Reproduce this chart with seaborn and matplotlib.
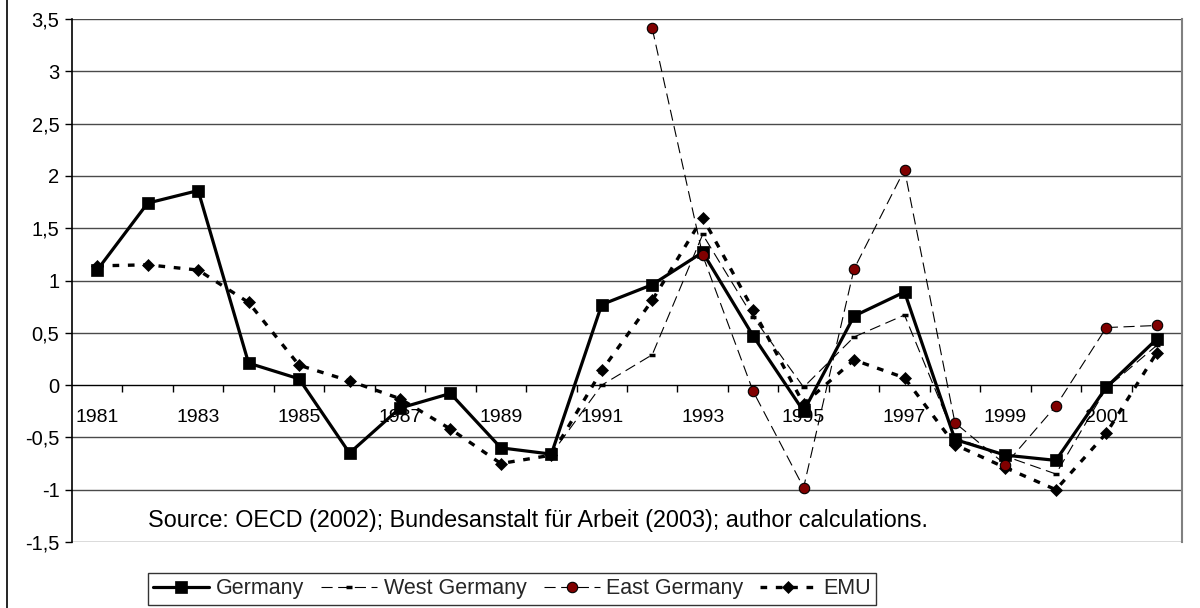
import pandas as pd
import seaborn as sns
import matplotlib.pyplot as plt
import numpy as np
from matplotlib.lines import Line2D
from matplotlib.ticker import FixedLocator, FuncFormatter

years = list(range(1981, 2003))
germany = [1.10, 1.74, 1.86, 0.21, 0.06, -0.65, -0.22, -0.08, -0.60, -0.66, 0.77,
           0.96, 1.27, 0.47, -0.25, 0.66, 0.89, -0.52, -0.67, -0.72, -0.02, 0.44]
west_germany = [1.10, 1.74, 1.86, 0.21, 0.06, -0.65, -0.22, -0.08, -0.60, -0.66, 0.00,
                0.29, 1.44, 0.65, -0.02, 0.46, 0.67, -0.50, -0.68, -0.85, -0.03, 0.38]
east_germany = [np.nan] * 11 + [3.41, 1.24, -0.06, -0.98, 1.11, 2.06, -0.36, -0.76, -0.20, 0.55, 0.57]
emu = [1.14, 1.15, 1.10, 0.79, 0.19, 0.04, -0.13, -0.42, -0.75, -0.67, 0.14,
       0.81, 1.60, 0.72, -0.18, 0.24, 0.07, -0.57, -0.79, -1.00, -0.46, 0.31]
source_note = "Source: OECD (2002); Bundesanstalt für Arbeit (2003); author calculations."

df = pd.DataFrame({
    "pos": np.arange(len(years)),
    "Germany": germany,
    "West Germany": west_germany,
    "East Germany": east_germany,
    "EMU": emu,
})

sns.set_theme(style="white")
plt.rcParams['font.family'] = ['Liberation Sans', 'DejaVu Sans']

fig = plt.figure(figsize=(12, 6.08), dpi=100)
ax = fig.add_axes([0.06, 0.1086, 0.925, 0.8601])

# horizontal grid
for v in np.arange(-1.5, 3.51, 0.5):
    if abs(v) > 1e-9:
        ax.axhline(v, color="#4a4a4a", lw=1.0, zorder=0)

sns.lineplot(data=df, x="pos", y="Germany", ax=ax, color="black", lw=2.3,
             marker="s", markersize=8.5, markeredgecolor="black", markeredgewidth=0.5,
             label="Germany", zorder=3)
sns.lineplot(data=df, x="pos", y="West Germany", ax=ax, color="black", lw=0.8,
             linestyle=(0, (10, 5)), marker="_", markersize=5, markeredgewidth=2.5,
             markeredgecolor="black", label="West Germany", zorder=4)
sns.lineplot(data=df, x="pos", y="East Germany", ax=ax, color="black", lw=0.8,
             linestyle=(0, (10, 5)), marker="o", markersize=7.5, markerfacecolor="#800000",
             markeredgecolor="black", markeredgewidth=0.8, label="East Germany", zorder=5)
sns.lineplot(data=df, x="pos", y="EMU", ax=ax, color="black", lw=2.4,
             linestyle=(0, (2.0, 2.6)), marker="D", markersize=6.5,
             markeredgecolor="black", markeredgewidth=0.5, label="EMU", zorder=3)

ax.set_xlim(-0.5, len(years) - 0.5)
ax.set_ylim(-1.5, 3.5)
ax.set_xlabel("")
ax.set_ylabel("")

# x axis crossing at zero
ax.spines["bottom"].set_position(("data", 0))
ax.spines["bottom"].set_color("black")
ax.spines["bottom"].set_linewidth(1.0)
ax.spines["left"].set_color("black")
ax.spines["left"].set_linewidth(1.2)
ax.spines["right"].set_color("#808080")
ax.spines["right"].set_linewidth(1.5)
ax.spines["top"].set_visible(False)

ax.xaxis.set_major_locator(FixedLocator(np.arange(0, len(years), 2)))
ax.xaxis.set_major_formatter(FuncFormatter(lambda x, p: str(years[int(round(x))])))
ax.xaxis.set_minor_locator(FixedLocator(np.arange(0.5, len(years) - 0.5, 1)))
ax.tick_params(axis="x", which="major", length=0, pad=17, labelsize=14, colors="black")
ax.tick_params(axis="x", which="minor", direction="out", length=5, width=1, color="black", bottom=True)

ax.set_yticks(np.arange(-1.5, 3.51, 0.5))
ax.yaxis.set_major_formatter(FuncFormatter(lambda v, p: f"{v:g}".replace(".", ",")))
ax.tick_params(axis="y", direction="out", length=5, width=1, pad=4, labelsize=14.5,
               colors="black", left=True)

ax.text(0.0685, 0.042, source_note, transform=ax.transAxes, fontsize=16.8,
        ha="left", va="center", color="black")

leg = ax.legend(loc="upper left", bbox_to_anchor=(148 / 1200, 1 - 573 / 608),
                bbox_transform=fig.transFigure, ncol=4, fontsize=15.5, frameon=True,
                fancybox=False, edgecolor="black", handlelength=2.6, handletextpad=0.3,
                columnspacing=0.8, borderpad=0.25, borderaxespad=0)
leg.get_frame().set_linewidth(1.0)

fig.add_artist(Line2D([0.0055, 0.0055], [0, 1], transform=fig.transFigure,
                      color="black", lw=1.2))

fig.savefig("out.png", dpi=100, facecolor="white")
